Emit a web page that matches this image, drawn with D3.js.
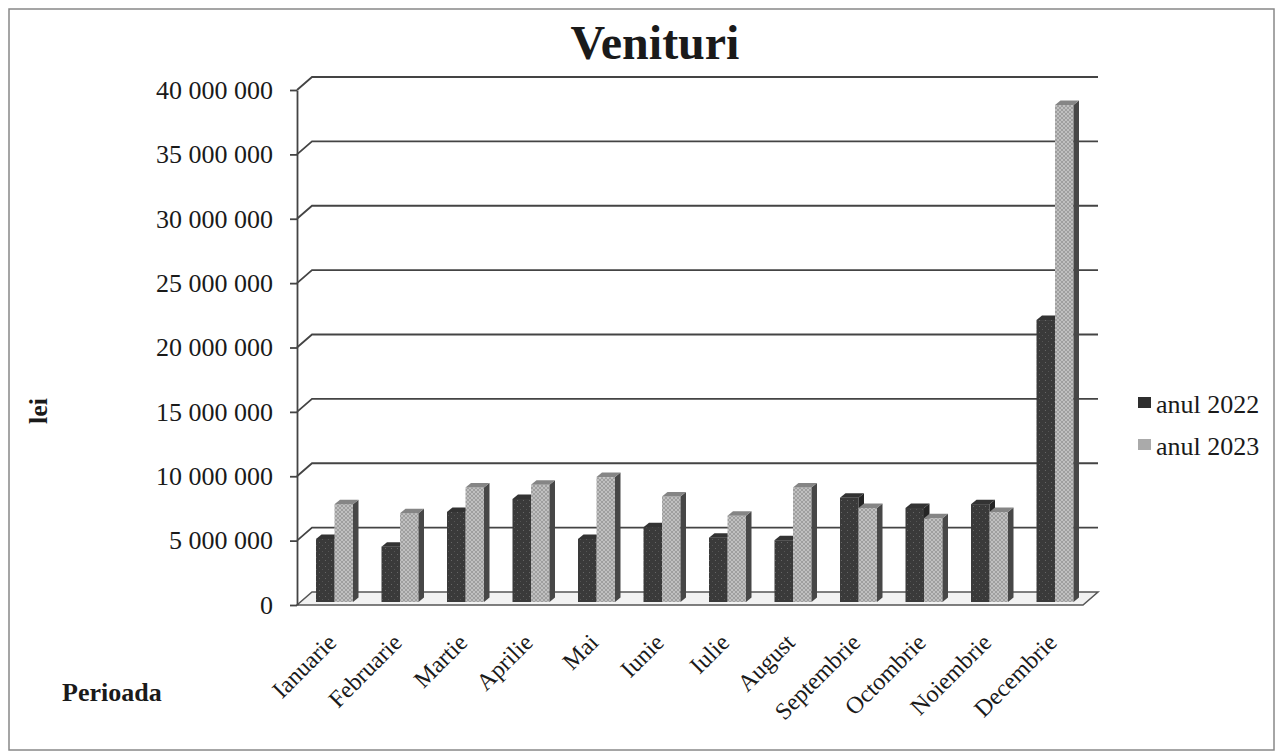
<!DOCTYPE html>
<head>
  <meta charset="utf-8">
  <title>Venituri</title>
  <script src="https://cdn.jsdelivr.net/npm/d3@7"></script>
  <style>
    body { margin: 0; background: #fff; }
    text { font-family: "Liberation Serif", "Times New Roman", serif; fill: #1a1a1a; }
  </style>
</head>
<body>
<script>
  var WIDTH = 1279, HEIGHT = 754;

  // ===== data (lei)
  var months = ["Ianuarie", "Februarie", "Martie", "Aprilie", "Mai", "Iunie",
                "Iulie", "August", "Septembrie", "Octombrie", "Noiembrie", "Decembrie"];
  var seriesNames = ["anul 2022", "anul 2023"];
  var v2022 = [4900000, 4300000, 7000000, 8000000, 4900000, 5800000,
               5000000, 4800000, 8100000, 7300000, 7600000, 21900000];
  var v2023 = [7600000, 6900000, 8900000, 9100000, 9700000, 8200000,
               6700000, 8900000, 7300000, 6500000, 7000000, 38600000];
  var yTicks = [0, 5000000, 10000000, 15000000, 20000000, 25000000, 30000000, 35000000, 40000000];

  // 3d offsets
  var DX = 15, DY = -13;      // back wall depth
  var BX = 3, BY = -3;        // bar front face depth
  var SX = 5.5, SY = -4.5;    // bar own depth

  var svg = d3.select("body").append("svg")
              .attr("width", WIDTH)
              .attr("height", HEIGHT);

  // ===== patterns
  var defs = svg.append("defs");
  var pDark = defs.append("pattern").attr("id", "pDark")
                  .attr("width", 6).attr("height", 6).attr("patternUnits", "userSpaceOnUse");
  pDark.append("rect").attr("width", 6).attr("height", 6).attr("fill", "#3a3a3a");
  pDark.append("rect").attr("x", 1).attr("y", 2).attr("width", 1).attr("height", 1).attr("fill", "#666");
  pDark.append("rect").attr("x", 4).attr("y", 5).attr("width", 1).attr("height", 1).attr("fill", "#555");

  var pLight = defs.append("pattern").attr("id", "pLight")
                   .attr("width", 4).attr("height", 4).attr("patternUnits", "userSpaceOnUse");
  pLight.append("rect").attr("width", 4).attr("height", 4).attr("fill", "#c0c0c0");
  pLight.append("path").attr("d", "M0,4L4,0M0,0L4,4").attr("stroke", "#979797").attr("stroke-width", 0.8);

  // outer frame
  svg.append("rect")
     .attr("x", 9).attr("y", 9).attr("width", 1265).attr("height", 741)
     .attr("fill", "none").attr("stroke", "#888").attr("stroke-width", 1.5);

  // ===== scales
  var x = d3.scaleBand().domain(months).range([297, 1083]);
  var y = d3.scaleLinear().domain([0, 40000000]).range([605, 90]);
  var fmt = d3.formatLocale({ decimal: ",", thousands: " ", grouping: [3], currency: ["", ""] }).format(",d");

  // floor
  var x0 = x.range()[0], x1 = x.range()[1], y0 = y(0);
  svg.append("path")
     .attr("d", "M" + x0 + "," + y0 + "L" + x1 + "," + y0 + "L" + (x1 + DX) + "," + (y0 + DY) +
                "L" + (x0 + DX) + "," + (y0 + DY) + "Z")
     .attr("fill", "#f2f2f2").attr("stroke", "#555").attr("stroke-width", 1.5);

  // gridlines on back + side wall
  svg.append("g").selectAll("path")
     .data(yTicks.slice(1))
     .enter().append("path")
     .attr("d", function(d) {
       return "M" + x0 + "," + y(d) + "L" + (x0 + DX) + "," + (y(d) + DY) + "L" + (x1 + DX) + "," + (y(d) + DY);
     })
     .attr("fill", "none").attr("stroke", "#444").attr("stroke-width", 1.8);

  // ===== bars
  var barW = 18.5;
  var bars = svg.append("g");
  var groups = [
    { vals: v2022, off: 16, front: "url(#pDark)", side: "#252525", top: "#333" },
    { vals: v2023, off: 16 + barW, front: "url(#pLight)", side: "#474747", top: "#858585" }
  ];
  months.forEach(function(m, i) {
    groups.forEach(function(g) {
      var bx = x(m) + g.off + BX, yb = y(0) + BY, yt = y(g.vals[i]) + BY;
      var cell = bars.append("g");
      cell.append("rect")
          .attr("x", bx).attr("y", yt).attr("width", barW).attr("height", yb - yt)
          .attr("fill", g.front);
      cell.append("path")
          .attr("d", "M" + (bx + barW) + "," + yt + "L" + (bx + barW + SX) + "," + (yt + SY) +
                     "L" + (bx + barW + SX) + "," + (yb + SY) + "L" + (bx + barW) + "," + yb + "Z")
          .attr("fill", g.side);
      cell.append("path")
          .attr("d", "M" + bx + "," + yt + "L" + (bx + SX) + "," + (yt + SY) +
                     "L" + (bx + barW + SX) + "," + (yt + SY) + "L" + (bx + barW) + "," + yt + "Z")
          .attr("fill", g.top);
    });
  });

  // ===== y axis
  var yAxis = svg.append("g")
     .attr("transform", "translate(" + x0 + ",0)")
     .call(d3.axisLeft(y).tickValues(yTicks).tickFormat(fmt).tickSize(7).tickSizeOuter(0).tickPadding(17));
  yAxis.selectAll("path, line").attr("stroke", "#444").attr("stroke-width", 1.8);
  yAxis.selectAll("text")
       .style("font-family", "'Liberation Serif', serif")
       .style("font-size", "26px").attr("fill", "#1a1a1a");

  // ===== x labels
  var xAxis = svg.append("g")
     .attr("transform", "translate(0," + y0 + ")")
     .call(d3.axisBottom(x).tickSize(0).tickPadding(0));
  xAxis.select(".domain").remove();
  xAxis.selectAll("text")
       .attr("y", 0).attr("dy", "0.35em")
       .attr("transform", "translate(2,33) rotate(-45)")
       .attr("text-anchor", "end")
       .style("font-family", "'Liberation Serif', serif")
       .style("font-size", "24px").attr("fill", "#1a1a1a");

  // ===== titles
  svg.append("text")
     .attr("x", 655).attr("y", 59)
     .attr("text-anchor", "middle")
     .style("font-size", "48px").style("font-weight", "bold")
     .text("Venituri");

  svg.append("text")
     .attr("transform", "translate(47,411) rotate(-90)")
     .attr("text-anchor", "middle")
     .style("font-size", "26px").style("font-weight", "bold")
     .text("lei");

  svg.append("text")
     .attr("x", 62).attr("y", 701)
     .style("font-size", "26px").style("font-weight", "bold")
     .text("Perioada");

  // ===== legend
  var legendColors = ["#2e2e2e", "#aaaaaa"];
  var legend = svg.append("g").selectAll("g")
     .data(seriesNames)
     .enter().append("g")
     .attr("transform", function(d, i) { return "translate(1138," + (397 + i * 42) + ")"; });
  legend.append("rect")
     .attr("width", 13).attr("height", 11)
     .attr("fill", function(d, i) { return legendColors[i]; });
  legend.append("text")
     .attr("x", 18).attr("y", 16)
     .style("font-size", "26px")
     .text(function(d) { return d; });
</script>
</body>
